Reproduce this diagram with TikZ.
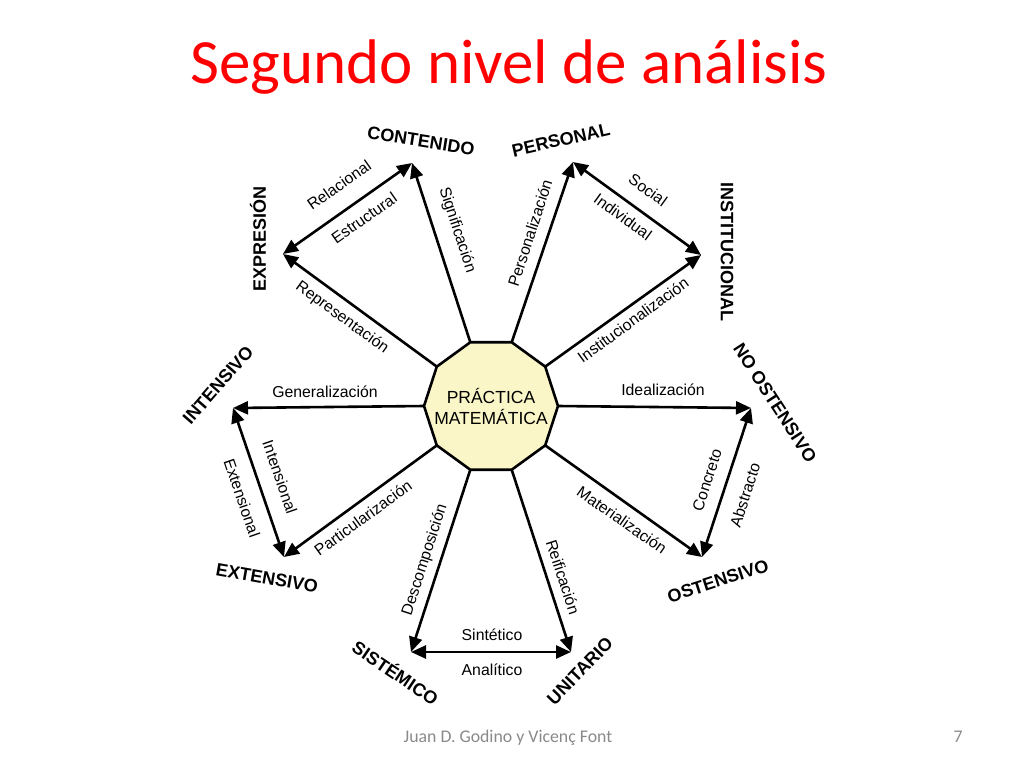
\documentclass[tikz,border=0pt]{standalone}
\usepackage{fontspec}
\setmainfont{Carlito}
\newfontfamily\arialfont{Liberation Sans}
\usetikzlibrary{arrows.meta}
\definecolor{pmfill}{RGB}{251,246,200}
\definecolor{footgray}{RGB}{137,137,137}
\tikzset{
    spoke/.style={line width=2.6pt, -{Triangle[length=15pt,width=13pt]}},
    twoway/.style={line width=2.6pt, {Triangle[length=15pt,width=13pt]}-{Triangle[length=15pt,width=13pt]}},
    pole/.style={font=\arialfont\bfseries\fontsize{18}{20}\selectfont, inner sep=0pt},
    lbl/.style={font=\arialfont\fontsize{15.8}{18}\selectfont, inner sep=0pt},
}
\begin{document}
\begin{tikzpicture}[x=1pt, y=-1pt]
    \useasboundingbox (0,0) rectangle (1024,768);

    % Title
    \node[font=\fontsize{63}{75}\selectfont, text=red, anchor=base] (title) at (509,83) {Segundo nivel de análisis};

    % Decagon corners (centre 491,406, radius 67)
    \foreach \i in {0,...,9} {
        \coordinate (v\i) at ({491+67*cos(36*\i)}, {406-67*sin(36*\i)});
    }

    % Tips of the outer ring
    \coordinate (cont) at (412,163);
    \coordinate (pers) at (573,162);
    \coordinate (inst) at (701,255);
    \coordinate (noos) at (751,408);
    \coordinate (oste) at (702,557);
    \coordinate (unit) at (571,652);
    \coordinate (sist) at (411,652);
    \coordinate (exte) at (284,557);
    \coordinate (inte) at (233,408);
    \coordinate (expr) at (283,254);

    % Spokes from the decagon
    \draw[spoke] (v0) -- (noos);
    \draw[spoke] (v1) -- (inst);
    \draw[spoke] (v2) -- (pers);
    \draw[spoke] (v3) -- (cont);
    \draw[spoke] (v4) -- (expr);
    \draw[spoke] (v5) -- (inte);
    \draw[spoke] (v6) -- (exte);
    \draw[spoke] (v7) -- (sist);
    \draw[spoke] (v8) -- (unit);
    \draw[spoke] (v9) -- (oste);

    % Double arrows between the pairs
    \draw[twoway] (expr) -- (cont);
    \draw[twoway] (pers) -- (inst);
    \draw[twoway] (noos) -- (oste);
    \draw[twoway] (sist) -- (unit);
    \draw[twoway] (exte) -- (inte);

    % Centre
    \filldraw[line width=2.6pt, fill=pmfill, line join=miter] (v0) \foreach \i in {1,...,9} {-- (v\i)} -- cycle;
    \node[align=center, font=\arialfont\fontsize{17.5}{21}\selectfont] (pm) at (491,406) {PRÁCTICA\\MATEMÁTICA};

    % Poles
    \node[pole, rotate=-9] (contenido) at (421,141) {CONTENIDO};
    \node[pole, rotate=13] (personal) at (561,140) {PERSONAL};
    \node[pole, rotate=-90] (institucional) at (727,252) {INSTITUCIONAL};
    \node[pole, rotate=-57] (noostensivo) at (775,403) {NO OSTENSIVO};
    \node[pole, rotate=18] (ostensivo) at (718,581) {OSTENSIVO};
    \node[pole, rotate=46] (unitario) at (580,671) {UNITARIO};
    \node[pole, rotate=-34] (sistemico) at (396,672) {SISTÉMICO};
    \node[pole, rotate=-10] (extensivo) at (267,578) {EXTENSIVO};
    \node[pole, rotate=49] (intensivo) at (218,385) {INTENSIVO};
    \node[pole, rotate=90] (expresion) at (258,239) {EXPRESIÓN};

    % Labels on the spokes
    \node[lbl, rotate=-72] (signif) at (457,230) {Significación};
    \node[lbl, rotate=72] (person) at (530,233) {Personalización};
    \node[lbl, rotate=36] (instit) at (633,320) {Institucionalización};
    \node[lbl] (ideal) at (663,390) {Idealización};
    \node[lbl, rotate=-35] (mater) at (622,520) {Materialización};
    \node[lbl, rotate=-72] (reif) at (563,577) {Reificación};
    \node[lbl, rotate=72] (descomp) at (425,560) {Descomposición};
    \node[lbl, rotate=36] (partic) at (363,518) {Particularización};
    \node[lbl] (gener) at (325,392) {Generalización};
    \node[lbl, rotate=-36] (repres) at (342,318) {Representación};

    % Labels on the double arrows
    \node[lbl, rotate=35] (relac) at (339,185) {Relacional};
    \node[lbl, rotate=35] (estruc) at (364,218) {Estructural};
    \node[lbl, rotate=-36] (social) at (648,190) {Social};
    \node[lbl, rotate=-36] (indiv) at (623,217) {Individual};
    \node[lbl, rotate=72] (concr) at (707,480) {Concreto};
    \node[lbl, rotate=72] (abstr) at (745,495) {Abstracto};
    \node[lbl] (sintet) at (492,635) {Sintético};
    \node[lbl] (analit) at (492,670) {Analítico};
    \node[lbl, rotate=-71] (intens) at (280,477) {Intensional};
    \node[lbl, rotate=-71] (extens) at (242,498) {Extensional};

    % Footer
    \node[font=\fontsize{17.8}{20}\selectfont, text=footgray, anchor=base] (foot) at (508,742) {Juan D. Godino y Vicenç Font};
    \node[font=\fontsize{17.8}{20}\selectfont, text=footgray, anchor=base] (page) at (958,742) {7};
\end{tikzpicture}
\end{document}
